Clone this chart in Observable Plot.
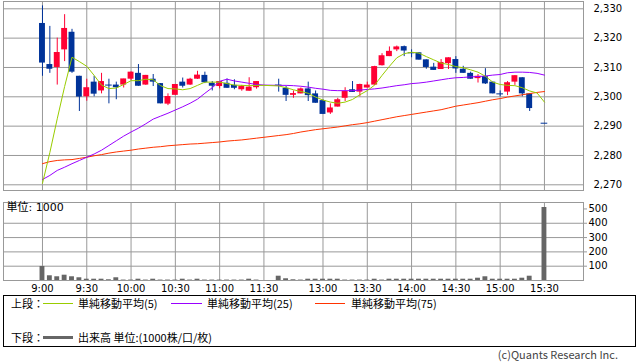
<!DOCTYPE html>
<html><head><meta charset="utf-8">
<script src="https://cdn.jsdelivr.net/npm/d3@7"></script>
<script src="https://cdn.jsdelivr.net/npm/@observablehq/plot@0.6"></script>
<style>
body{margin:0;background:#fff;}
#c{position:relative;width:638px;height:362px;overflow:hidden;background:#fff;}
#c svg{position:absolute;left:0;}
.t{position:absolute;font-size:11px;line-height:12px;white-space:nowrap;color:#000;font-family:"Noto Sans CJK JP",sans-serif;}
.ln{position:absolute;}
</style></head><body><div id="c"></div>
<script>
// ---- data ----
const times = ["9:00","9:05","9:10","9:15","9:20","9:25","9:30","9:35","9:40","9:45","9:50","9:55","10:00","10:05","10:10","10:15","10:20","10:25","10:30","10:35","10:40","10:45","10:50","10:55","11:00","11:05","11:10","11:15","11:20","11:25","11:30",
"12:30","12:35","12:40","12:45","12:50","12:55","13:00","13:05","13:10","13:15","13:20","13:25","13:30","13:35","13:40","13:45","13:50","13:55","14:00","14:05","14:10","14:15","14:20","14:25","14:30","14:35","14:40","14:45","14:50","14:55","15:00","15:05","15:10","15:15","15:20","15:25","15:30"];
const open = [2325,2311,2310,2316,2322,2307,2300,2305,2302,2304,2304,2304,2306,2308,2304,2306,2304.5,2297.5,2300.5,2305,2304,2306,2307.3,2304.6,2303.5,2304.6,2303.9,2302.4,2301.9,2303.1,null,
2304,2302.9,2300.5,2301,2302.7,2301,2298.7,2294.5,2296.5,2299.5,2302.4,2301.6,2303,2304,2310.6,2313.7,2316,2317.1,2315,2315,2312.6,2310.1,2309.3,2311.3,2312.7,2309.4,2308,2306.2,2306.9,2305,2301,2301.6,2305,2306.5,2301,null,2291];
const high = [2331,2324,2320,2328,2323,2307,2306,2307,2308,2306,2305,2306,2308.5,2311,2307.3,2307.6,2304.5,2301,2304.2,2306.4,2306.3,2308.7,2308.4,2305.2,2305.2,2306.1,2305.8,2303.9,2306.5,2305.2,null,
2306,2303.5,2302,2303,2305,2302,2299,2297.6,2299.5,2303.1,2305.2,2304.3,2305,2310.4,2314.7,2317,2317.3,2317.3,2316,2315,2312.6,2311.4,2312.7,2313.3,2313.7,2310.4,2308.4,2307.6,2309.6,2305,2302,2305.2,2307.2,2306.5,2301,null,2291];
const low = [2307,2308,2304,2312,2308,2295,2298.5,2300,2301,2297.6,2299,2303,2305.5,2303.6,2303.9,2303.5,2297.6,2297,2300.5,2303,2303.9,2305.9,2304.5,2302,2302.7,2302.9,2302.4,2301.9,2301.9,2302.6,null,
2301.6,2298.4,2299.5,2301,2298.4,2297.8,2294,2294,2296.5,2298.4,2301.5,2300,2303,2303.8,2310.5,2313.7,2315.4,2313.7,2313.3,2312.5,2309.4,2309,2309.3,2309.3,2308,2308,2306,2304.7,2304.2,2301,2300,2300.4,2303.9,2300,2295,null,2291];
const close = [2311.5,2309.4,2315.1,2323.3,2308.4,2299.9,2303.1,2300.9,2305.2,2304,2303.1,2306.1,2308.4,2303.6,2307.3,2305,2297.6,2300.1,2304.2,2303.6,2306,2307.4,2304.8,2303.6,2305.2,2302.9,2302.9,2303.5,2303.3,2305.2,null,
2304,2300.5,2301.1,2302.7,2300.4,2297.8,2294,2296.2,2299,2301.8,2301.5,2304.2,2304,2310.3,2314,2315.5,2317,2315.6,2315,2312.5,2310,2309,2311.7,2313.3,2309.5,2308,2306,2307,2304.4,2301,2301,2304.8,2307.2,2301,2296,null,2291];
const volume = [98,33,26,37,26,19,9,9,9,5,19,3,3,9,3,9,3,3,3,9,3,9,3,3,3,3,3,3,9,3,0,
30,12,5,3,9,9,9,9,9,3,3,3,3,9,3,9,9,9,9,9,9,9,9,9,9,9,9,16,26,9,9,9,9,16,30,0,510];
const ma5 = [2270.5,2281,2292.5,2303.5,2313.5,2312,2310.4,2307.3,2304,2302.8,2303,2304.2,2305.5,2305.5,2306,2305.8,2303.8,2302.8,2302.7,2302.4,2302.8,2303.9,2305,2305,2305,2304.5,2304,2303.9,2303.8,2303.9,2303.9,
2303.7,2303.1,2302.4,2301.8,2301.2,2299.9,2298.9,2298.2,2297.8,2298.2,2299.1,2300.7,2302.1,2304,2307.3,2310.4,2313.3,2314.7,2315.2,2314.9,2313.7,2312.6,2311.5,2311,2310.3,2309.9,2309.2,2308.4,2307,2305,2304.2,2303.9,2303.8,2303.1,2302,2301.3,2298.2];
const ma25 = [2271.8,2273.2,2274.9,2276,2277.2,2278.3,2279.4,2280.5,2281.8,2283.4,2285,2286.6,2288,2289.3,2290.8,2292.4,2293.4,2294.4,2295.5,2296.6,2297.8,2299.2,2301.2,2303.1,2305.3,2306,2305.4,2305,2304.6,2304.2,2304,
2303.9,2303.9,2303.8,2303.6,2303.3,2302.9,2302.6,2302.2,2302.1,2302.1,2302.1,2302.3,2302.5,2302.7,2303,2303.4,2303.8,2304.1,2304.5,2304.7,2305,2305.4,2305.8,2306.2,2306.5,2306.6,2306.8,2306.9,2307.1,2307.4,2307.6,2308.2,2308.4,2308.4,2308.3,2308,2307.4];
const ma75 = [2277.2,2277.9,2278.3,2278.5,2278.6,2279,2279.4,2279.9,2280.3,2280.8,2281.2,2281.5,2281.8,2282.2,2282.5,2282.8,2283,2283.3,2283.5,2283.7,2283.9,2284,2284.2,2284.4,2284.6,2284.9,2285.1,2285.3,2285.6,2285.9,2286.2,
2286.8,2287.1,2287.5,2288,2288.4,2288.8,2289.1,2289.4,2289.7,2290.1,2290.5,2290.8,2291.2,2291.7,2292.2,2292.7,2293.2,2293.6,2294,2294.4,2294.8,2295.2,2295.6,2296.2,2296.8,2297.2,2297.6,2298,2298.5,2299,2299.4,2299.9,2300.3,2300.7,2301.1,2301.5,2301.8];
const xTickLabels = ["9:00","9:30","10:00","10:30","11:00","11:30","13:00","13:30","14:00","14:30","15:00","15:30"];
const priceTicks = [2270,2280,2290,2300,2310,2320,2330];
const volTicks = [100,200,300,400,500];
const volGrid = [100,200,300,400];

// ---- helpers ----
// bar slot on the session axis: 5-minute steps, lunch break collapsed to a one-slot gap
function slot(t){const [h,m]=t.split(":").map(Number);const min=(h-9)*60+m;return min/5-(min>=210?10:0);}
const rows = times.map((t,i)=>({t,pos:slot(t),open:open[i],high:high[i],low:low[i],close:close[i],vol:volume[i],ma5:ma5[i],ma25:ma25[i],ma75:ma75[i]}));
const candles = rows.filter(d=>d.open!=null);
const BLUE="#003399", RED="#ff0033";
const col = d=> d.close>d.open ? RED : BLUE;
const bodies = candles.filter(d=>d.close!==d.open);
const dojis = candles.filter(d=>d.close===d.open);
const tickPos = xTickLabels.map(slot);
const labelAt = new Map(tickPos.map((p,i)=>[p,xTickLabels[i]]));
const xDomain=[-5.28,73.29];
const GRID="#999";

const main = Plot.plot({
  width:638,height:192,marginLeft:3,marginRight:55,marginTop:1,marginBottom:2,
  style:{fontFamily:"DejaVu Sans",fontSize:"10px",color:"#000",background:"transparent"},
  x:{domain:xDomain,axis:null},
  y:{domain:[2268.06,2332.49],axis:null},
  marks:[
    Plot.gridY(priceTicks,{stroke:GRID,strokeOpacity:1}),
    Plot.gridX(tickPos,{stroke:GRID,strokeOpacity:1}),
    Plot.frame({stroke:GRID}),
    Plot.axisY(priceTicks,{anchor:"right",tickSize:0,tickPadding:10,tickFormat:d3.format(","),label:null}),
    Plot.ruleX(candles,{x:"pos",y1:"low",y2:"high",stroke:col,strokeWidth:1}),
    Plot.rect(bodies,{x1:d=>d.pos-0.4,x2:d=>d.pos+0.4,y1:"open",y2:"close",fill:col}),
    Plot.ruleY(dojis,{y:"close",x1:d=>d.pos-0.45,x2:d=>d.pos+0.45,stroke:BLUE,strokeWidth:1}),
    Plot.line(rows,{x:"pos",y:"ma75",stroke:"#ff3300",strokeWidth:1}),
    Plot.line(rows,{x:"pos",y:"ma25",stroke:"#9900ff",strokeWidth:1}),
    Plot.line(rows,{x:"pos",y:"ma5",stroke:"#99cc00",strokeWidth:1})
  ]
});
main.style.top="0px";

const vol = Plot.plot({
  width:638,height:104,marginLeft:3,marginRight:55,marginTop:10,marginBottom:16,
  style:{fontFamily:"DejaVu Sans",fontSize:"10px",color:"#000",background:"transparent"},
  x:{domain:xDomain,axis:null},
  y:{domain:[0,545],axis:null},
  marks:[
    Plot.gridY(volGrid,{stroke:GRID,strokeOpacity:1}),
    Plot.gridX(tickPos,{stroke:GRID,strokeOpacity:1}),
    Plot.rectY(rows.filter(d=>d.vol>0),{x1:d=>d.pos-0.33,x2:d=>d.pos+0.33,y:"vol",fill:"#666"}),
    Plot.frame({stroke:GRID}),
    Plot.axisY(volTicks,{anchor:"right",tickSize:3,tickPadding:2,stroke:GRID,label:null}),
    Plot.axisX(tickPos,{anchor:"bottom",tickSize:0,tickPadding:4,tickFormat:d=>labelAt.get(d),label:null}),
    Plot.text(["単位: 1000"],{frameAnchor:"top-left",dx:3,dy:1,textAnchor:"start",lineAnchor:"top",fontSize:11,fontFamily:"DejaVu Sans, Noto Sans CJK JP"})
  ]
});
vol.style.top="192px";

const c=document.getElementById("c");
c.appendChild(main);c.appendChild(vol);

// ---- legend ----
const legendItems=[
  {row:"上段：",y:303,items:[{color:"#99cc00",x1:43,x2:73,h:1,label:"単純移動平均(5)",lx:78},{color:"#9900ff",x1:171,x2:202,h:1,label:"単純移動平均(25)",lx:207},{color:"#ff3300",x1:315,x2:345,h:1,label:"単純移動平均(75)",lx:351}]},
  {row:"下段：",y:337,items:[{color:"#666",x1:43,x2:73,h:3,label:"出来高 単位:(1000株/口/枚)",lx:78}]}
];
const box=document.createElement("div");
box.style.cssText="position:absolute;left:3px;top:295px;width:633px;height:52px;border:1px solid #000;box-sizing:border-box;";
c.appendChild(box);
function addText(txt,x,yc,extra){const s=document.createElement("div");s.className="t";s.textContent=txt;s.style.left=x+"px";s.style.top=(yc-6)+"px";if(extra)s.style.cssText+=extra;c.appendChild(s);return s;}
for(const r of legendItems){
  addText(r.row,11,r.y);
  for(const it of r.items){
    const l=document.createElement("div");l.className="ln";
    l.style.cssText=`left:${it.x1}px;width:${it.x2-it.x1}px;top:${r.y-Math.floor(it.h/2)}px;height:${it.h}px;background:${it.color};`;
    c.appendChild(l);
    addText(it.label,it.lx,r.y);
  }
}
addText("(c)Quants Research Inc.",0,354,"left:auto;right:20px;color:#444;");
</script></body></html>
